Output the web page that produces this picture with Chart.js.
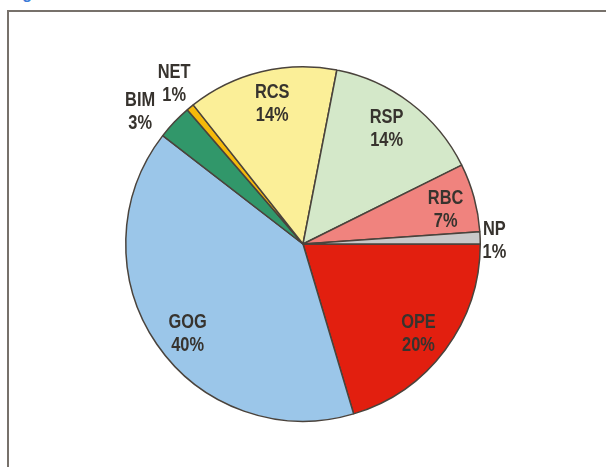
<!DOCTYPE html>
<html>
<head>
<meta charset="utf-8">
<script src="https://cdn.jsdelivr.net/npm/chart.js@4/dist/chart.umd.min.js"></script>
<style>
  html, body { margin: 0; padding: 0; background: #ffffff; width: 606px; height: 467px; overflow: hidden; }
  #caption { position: absolute; left: 8px; top: -14px; font: bold 16px 'Liberation Sans', Arial, sans-serif; line-height: 16px; color: #3b7dd8; white-space: nowrap; }
  #frame { position: absolute; left: 7px; top: 10px; width: 620px; height: 480px; border-top: 2px solid #77716b; border-left: 2px solid #77716b; }
  #wrap { position: absolute; left: 0; top: 0; width: 606px; height: 467px; }
</style>
</head>
<body>
<div id="caption">Figure 3</div>
<div id="frame"></div>
<div id="wrap"><canvas id="c"></canvas></div>
<script>
const categories = ['OPE', 'GOG', 'BIM', 'NET', 'RCS', 'RSP', 'RBC', 'NP'];
const shares = [20.4, 40.1, 3.2, 0.7, 13.7, 14.6, 6.25, 1.1];
const shareLabels = ['20%', '40%', '3%', '1%', '14%', '14%', '7%', '1%'];
const sliceColors = ['#e21f0f', '#9bc6e9', '#31976a', '#f5b90a', '#fbef98', '#d4e8c9', '#f0837e', '#c9c9c9'];

// label placement: radius factor (of outer radius) and angle shift in degrees
const labelPlacement = [
  { r: 0.82, da: 0.7 },
  { r: 0.82, da: -3.0 },
  { r: 1.19, da: -4.0 },
  { r: 1.167, da: 1.0 },
  { r: 0.82, da: 1.4 },
  { r: 0.81, da: -1.7 },
  { r: 0.83, da: 1.0 },
  { r: 1.08, da: 0.6 }
];

const sliceLabels = {
  id: 'sliceLabels',
  afterDatasetsDraw(chart) {
    const ctx = chart.ctx;
    const meta = chart.getDatasetMeta(0);
    meta.data.forEach((arc, i) => {
      const p = arc.getProps(['x', 'y', 'startAngle', 'endAngle', 'outerRadius'], true);
      const pl = labelPlacement[i];
      const mid = (p.startAngle + p.endAngle) / 2 + pl.da * Math.PI / 180;
      const x = p.x + Math.cos(mid) * p.outerRadius * pl.r;
      const y = p.y + Math.sin(mid) * p.outerRadius * pl.r + 2;
      ctx.save();
      ctx.font = "bold 20px 'Liberation Sans', Arial, sans-serif";
      ctx.fillStyle = '#37332e';
      ctx.textAlign = 'center';
      ctx.textBaseline = 'middle';
      ctx.translate(x, y);
      ctx.scale(0.82, 1);
      ctx.fillText(categories[i], 0, -11.5);
      ctx.fillText(shareLabels[i], 0, 11.5);
      ctx.restore();
    });
  }
};

new Chart(document.getElementById('c'), {
  type: 'pie',
  data: {
    labels: categories,
    datasets: [{
      data: shares,
      backgroundColor: sliceColors,
      borderColor: '#4a433c',
      borderWidth: 1.5
    }]
  },
  options: {
    responsive: true,
    maintainAspectRatio: false,
    animation: false,
    rotation: 90,
    layout: { padding: { left: 125, right: 125, top: 66, bottom: 45 } },
    plugins: { legend: { display: false }, tooltip: { enabled: false } }
  },
  plugins: [sliceLabels]
});
</script>
</body>
</html>
